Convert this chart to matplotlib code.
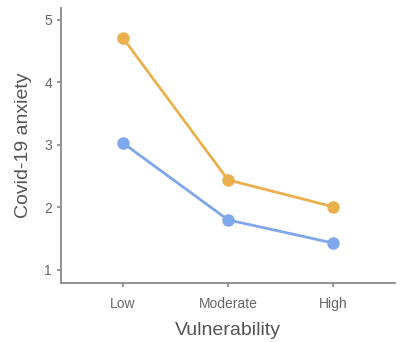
import matplotlib
matplotlib.use("Agg")
import matplotlib.pyplot as plt

# данные
categories = ["Low", "Moderate", "High"]
series_orange = [4.71, 2.44, 2.01]
series_blue = [3.03, 1.80, 1.43]
yticks = [1, 2, 3, 4, 5]

plt.rcParams['font.family'] = ['Liberation Sans', 'DejaVu Sans']

fig = plt.figure(figsize=(4.04, 3.42), dpi=100)
ax = fig.add_axes([0.151, 0.1725, 0.827, 0.804])

x = range(len(categories))
ax.plot(x, series_orange, color='#EBB04E', lw=2.0, marker='o', ms=8, zorder=3)
ax.plot(x, series_blue, color='#7FA8EC', lw=2.0, marker='o', ms=8, zorder=3)

ax.set_xlim(-0.59, 2.59)
ax.set_ylim(0.79, 5.19)
ax.set_xticks(list(x))
ax.set_xticklabels(categories)
ax.set_yticks(yticks)

for s in ['top', 'right']:
    ax.spines[s].set_visible(False)
for s in ['left', 'bottom']:
    ax.spines[s].set_color('#8a8a8a')
    ax.spines[s].set_linewidth(1.3)

ax.tick_params(colors='#8a8a8a', labelcolor='#666666', labelsize=10, length=3, width=1.2)
ax.tick_params(axis='x', pad=7)
ax.set_xlabel('Vulnerability', fontsize=14, color='#555555', labelpad=8)
ax.set_ylabel('Covid-19 anxiety', fontsize=14, color='#555555', labelpad=9)

plt.savefig("out.png", dpi=100)
